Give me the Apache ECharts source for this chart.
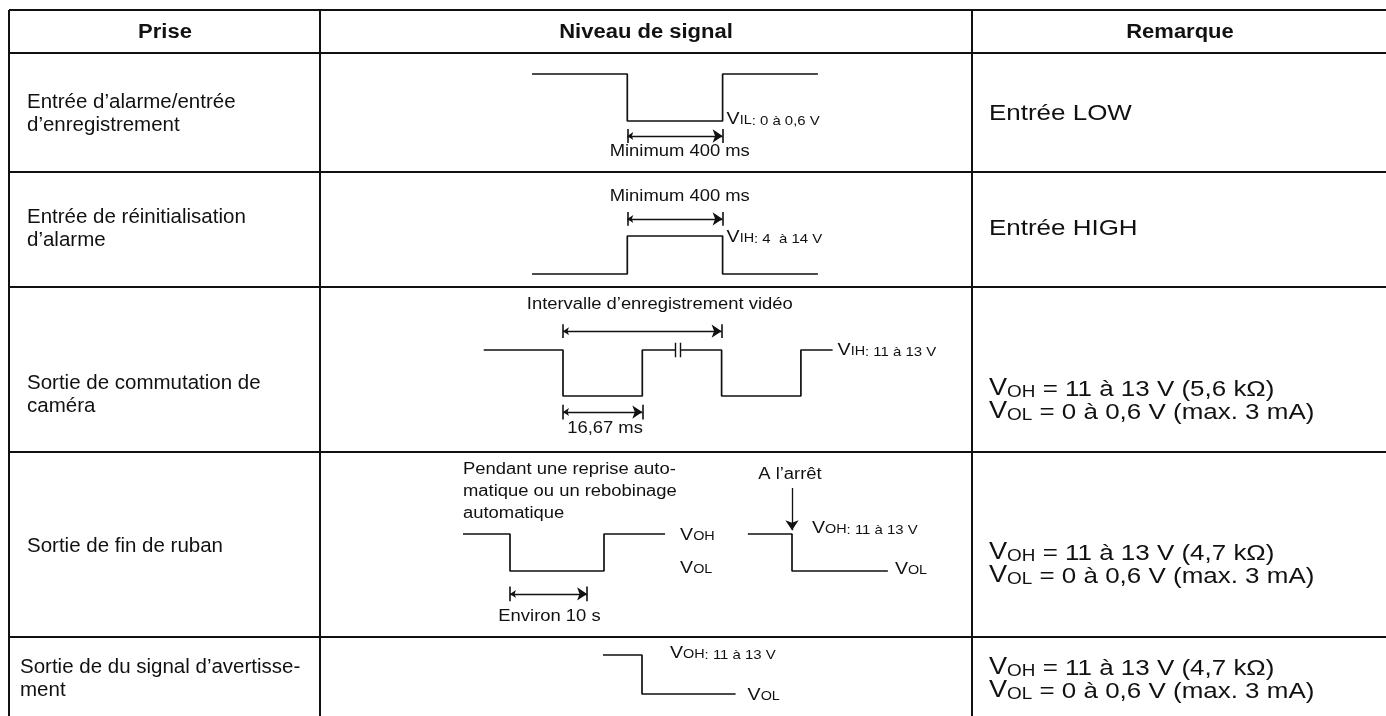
<!DOCTYPE html>
<html><head><meta charset="utf-8">
<script src="https://cdn.jsdelivr.net/npm/echarts@6/dist/echarts.min.js"></script>
<style>html,body{margin:0;padding:0;background:#fff}#c{width:1386px;height:716px}</style>
</head><body><div id="c"></div>
<script>
// ---------- DATA ----------
const headers = ['Prise', 'Niveau de signal', 'Remarque'];
const prises = [
  ['Entrée d’alarme/entrée', 'd’enregistrement'],
  ['Entrée de réinitialisation', 'd’alarme'],
  ['Sortie de commutation de', 'caméra'],
  ['Sortie de fin de ruban'],
  ['Sortie de du signal d’avertisse-', 'ment']
];
const remarques = [
  ['Entrée LOW'],
  ['Entrée HIGH'],
  ['V_OH = 11 à 13 V (5,6 kΩ)', 'V_OL = 0 à 0,6 V (max. 3 mA)'],
  ['V_OH = 11 à 13 V (4,7 kΩ)', 'V_OL = 0 à 0,6 V (max. 3 mA)'],
  ['V_OH = 11 à 13 V (4,7 kΩ)', 'V_OL = 0 à 0,6 V (max. 3 mA)']
];
// waveforms: time (arbitrary units) and logic level (1 = high, 0 = low)
const w1T = [0, 1, 1, 2, 2, 3],          w1L = [1, 1, 0, 0, 1, 1];
const w2T = [0, 1, 1, 2, 2, 3],          w2L = [0, 0, 1, 1, 0, 0];
const w3aT = [-1, 0, 0, 1, 1, 1.42],     w3aL = [1, 1, 0, 0, 1, 1];
const w3bT = [1.48, 2, 2, 3, 3, 3.4],    w3bL = [1, 1, 0, 0, 1, 1];
const w4aT = [-0.5, 0, 0, 1, 1, 1.65],   w4aL = [1, 1, 0, 0, 1, 1];
const w4bT = [2.53, 3, 3, 4.02],         w4bL = [1, 1, 0, 0];
const w5T = [0, 1, 1, 3.4],              w5L = [1, 1, 0, 0];
// dimension spans (time units) and their labels
const dim1 = [1, 2], dim2 = [1, 2], dim3a = [0, 2], dim3b = [0, 1], dim4 = [0, 0.82];
const dimLabels = ['Minimum 400 ms', 'Minimum 400 ms', 'Intervalle d’enregistrement vidéo', '16,67 ms', 'Environ 10 s'];
const breakT = [1.42, 1.48];
const stopT = 3;
const levelLabels = ['V_IL: 0 à 0,6 V', 'V_IH: 4  à 14 V', 'V_IH: 11 à 13 V', 'V_OH', 'V_OL', 'V_OH: 11 à 13 V', 'V_OL', 'V_OH: 11 à 13 V', 'V_OL'];
const row4Note = ['Pendant une reprise auto-', 'matique ou un rebobinage', 'automatique'];
const stopLabel = 'A l’arrêt';

// ---------- LAYOUT ----------
const FONT = '"Liberation Sans", Arial, Helvetica, sans-serif';
const INK = '#111';
const DS = 1.15;   // horizontal stretch of the scanned diagram lettering
const RS = 1.18;   // horizontal stretch of the remark lettering
const HS = 1.1;    // header lettering
const rows = [
  {x0: 532, pxT: 95.3, t: [0, 3],      yHi: 74,  yLo: 121, lv: [-1.2, 1.4]},
  {x0: 532, pxT: 95.3, t: [0, 3],      yHi: 236, yLo: 274, lv: [-0.5, 2.3]},
  {x0: 563, pxT: 79.3, t: [-1, 3.4],   yHi: 350, yLo: 396, lv: [-0.8, 2.1]},
  {x0: 510, pxT: 94,   t: [-0.5, 4.1], yHi: 534, yLo: 571, lv: [-1.4, 2.6]},
  {x0: 603, pxT: 39,   t: [0, 3.4],    yHi: 655, yLo: 694, lv: [-0.3, 1.3]}
];
function gridOf(r) {
  const pl = r.yLo - r.yHi;
  return {left: r.x0 + r.t[0] * r.pxT, width: (r.t[1] - r.t[0]) * r.pxT,
          top: r.yHi - (r.lv[1] - 1) * pl, height: (r.lv[1] - r.lv[0]) * pl, containLabel: false, show: false};
}
function P(i, t, l) { const r = rows[i]; return [r.x0 + t * r.pxT, r.yLo - l * (r.yLo - r.yHi)]; }

const grids = rows.map(gridOf);
const xAxes = rows.map((r, i) => ({type: 'value', gridIndex: i, min: r.t[0], max: r.t[1], show: false}));
const yAxes = rows.map((r, i) => ({type: 'value', gridIndex: i, min: r.lv[0], max: r.lv[1], show: false}));

const series = [];
function wave(i, T, L) {
  series.push({type: 'line', xAxisIndex: i, yAxisIndex: i, data: T.map((t, k) => [t, L[k]]),
    showSymbol: false, symbol: 'none', clip: false, silent: true, animation: false,
    lineStyle: {color: INK, width: 1.7}});
}
function segs(i, list, sym, w) {
  series.push({type: 'lines', coordinateSystem: 'cartesian2d', xAxisIndex: i, yAxisIndex: i,
    data: list.map(c => ({coords: c})), symbol: sym, symbolSize: [6, 10], silent: true, animation: false,
    lineStyle: {color: INK, width: w || 1.3, opacity: 1, curveness: 0}, itemStyle: {color: INK}});
}
function dim(i, span, lv, h) {
  segs(i, [[[span[0], lv], [span[1], lv]]], ['arrow', 'arrow'], 1.3);
  segs(i, [[[span[0], lv - h], [span[0], lv + h]], [[span[1], lv - h], [span[1], lv + h]]], ['none', 'none'], 1.6);
}
wave(0, w1T, w1L); wave(1, w2T, w2L); wave(2, w3aT, w3aL); wave(2, w3bT, w3bL);
wave(3, w4aT, w4aL); wave(3, w4bT, w4bL); wave(4, w5T, w5L);
dim(0, dim1, -0.32, 0.15);
dim(1, dim2, 1.45, 0.18);
dim(2, dim3a, 1.41, 0.15);
dim(2, dim3b, -0.35, 0.16);
dim(3, dim4, -0.62, 0.2);
segs(2, breakT.map(t => [[t, 0.84], [t, 1.16]]), ['none', 'none'], 1.4);
segs(3, [[[stopT, 2.24], [stopT, 1.1]]], ['none', 'arrow'], 1.3);

// ---------- GRAPHIC (table + text) ----------
const g = [];
function hline(y) { g.push({type: 'line', shape: {x1: 9, y1: y, x2: 1386, y2: y}, style: {stroke: INK, lineWidth: 2}, silent: true}); }
function vline(x) { g.push({type: 'line', shape: {x1: x, y1: 10, x2: x, y2: 716}, style: {stroke: INK, lineWidth: 2}, silent: true}); }
[10, 53, 172, 287, 452, 637].forEach(hline);
[9, 320, 972].forEach(vline);

function txt(x, y, text, opt) {
  opt = opt || {};
  const al = opt.align || 'left';
  const st = {text: text, x: 0, y: 0, fill: INK, font: opt.font || ('20px ' + FONT),
    align: al, textAlign: al, verticalAlign: 'middle', textVerticalAlign: 'middle'};
  if (opt.rich) st.rich = opt.rich;
  g.push({type: 'text', x: x, y: y, scaleX: opt.sx || 1, scaleY: 1, silent: true, style: st, z: 10});
}
function richify(s, big, small, rest) {
  const m = s.match(/^V_([A-Z]+)(.*)$/);
  if (!m) return null;
  return {text: '{V|V}{s|' + m[1] + '}' + (m[2] ? '{n|' + m[2] + '}' : ''),
    rich: {V: {fontSize: big, fontFamily: FONT, fill: INK, verticalAlign: 'bottom'},
           s: {fontSize: small, fontFamily: FONT, fill: INK, verticalAlign: 'bottom'},
           n: {fontSize: rest, fontFamily: FONT, fill: INK, verticalAlign: 'bottom'}}};
}

const headX = [165, 646, 1180];
headers.forEach((h, i) => txt(headX[i], 32, h, {align: 'center', font: 'bold 20px ' + FONT, sx: HS}));

const priseX = [27, 27, 27, 27, 20];
const priseY = [[102, 125], [217, 240], [383, 406], [546], [667, 690]];
prises.forEach((ls, i) => ls.forEach((l, k) => txt(priseX[i], priseY[i][k], l, {font: '20.5px ' + FONT})));

const remY = [[114], [229], [389, 412], [553, 576], [668, 691]];
remarques.forEach((ls, i) => ls.forEach((l, k) => {
  const r = richify(l, 23, 16, 22);
  if (r) txt(989, remY[i][k], r.text, {rich: r.rich, sx: RS}); else txt(989, remY[i][k], l, {font: '22px ' + FONT, sx: RS});
}));

// diagram labels, anchored through the same time/level mapping as the grids
const LF = '16px ' + FONT;
function lbl(i, t, l, s, dx, dy, align) {
  const p = P(i, t, l);
  const r = richify(s, 17, 12.5, 13);
  if (r) txt(p[0] + (dx || 0), p[1] + (dy || 0), r.text, {rich: r.rich, align: align, sx: DS});
  else txt(p[0] + (dx || 0), p[1] + (dy || 0), s, {font: LF, align: align, sx: DS});
}
lbl(0, 1.55, -0.66, dimLabels[0], 0, 0, 'center');
lbl(1, 1.55, 2.03, dimLabels[1], 0, 0, 'center');
lbl(2, 1.22, 1.98, dimLabels[2], 0, 0, 'center');
lbl(2, 0.53, -0.70, dimLabels[3], 0, 0, 'center');
lbl(3, 0.42, -1.24, dimLabels[4], 0, 0, 'center');
lbl(0, 2, 0, levelLabels[0], 4, -2);
lbl(1, 2, 1, levelLabels[1], 4, 1);
lbl(2, 3.4, 1, levelLabels[2], 5, 0);
lbl(3, 1.65, 1, levelLabels[3], 15, 1);
lbl(3, 1.65, 0, levelLabels[4], 15, -3);
lbl(3, 3, 1, levelLabels[5], 20, -6);
lbl(3, 4.02, 0, levelLabels[6], 7, -2);
lbl(4, 1, 1, levelLabels[7], 28, -2);
lbl(4, 3.4, 0, levelLabels[8], 12, 1);
row4Note.forEach((s, k) => txt(463, 470 + k * 22, s, {font: LF, sx: DS}));
lbl(3, stopT, 2.6, stopLabel, -2, 0, 'center');

const chart = echarts.init(document.getElementById('c'));
chart.setOption({
  backgroundColor: '#fff',
  animation: false,
  grid: grids, xAxis: xAxes, yAxis: yAxes,
  series: series,
  graphic: {elements: g}
});
</script></body></html>
